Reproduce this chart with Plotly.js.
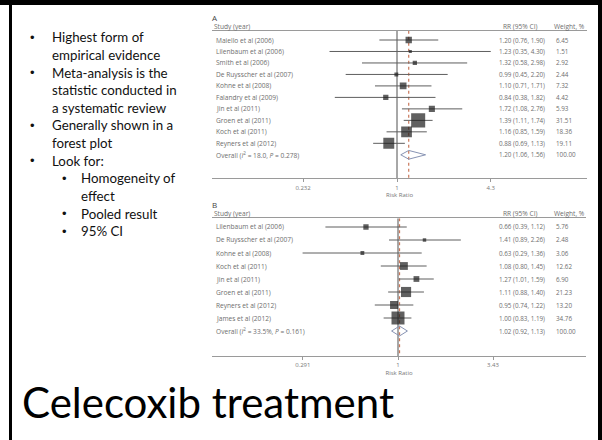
<!DOCTYPE html>
<html>
<head>
<meta charset="utf-8">
<script src="https://cdn.plot.ly/plotly-3.0.1.min.js"></script>
<style>html,body{margin:0;padding:0;background:#fff;}#chart{width:602px;height:440px;}</style>
</head>
<body>
<div id="chart"></div>
<script>
// ---------- data ----------
const studiesA = ["Maiello et al (2006)", "Lilenbaum et al (2006)", "Smith et al (2006)", "De Ruysscher et al (2007)", "Kohne et al (2008)", "Falandry et al (2009)", "Jin et al (2011)", "Groen et al (2011)", "Koch et al (2011)", "Reyners et al (2012)"];
const rrA = [1.20, 1.23, 1.32, 0.99, 1.10, 0.84, 1.72, 1.39, 1.16, 0.88];
const loA = [0.76, 0.35, 0.58, 0.45, 0.71, 0.38, 1.08, 1.11, 0.85, 0.69];
const hiA = [1.90, 4.30, 2.98, 2.20, 1.71, 1.82, 2.76, 1.74, 1.59, 1.13];
const wA = [6.45, 1.51, 2.92, 2.44, 7.32, 4.42, 5.93, 31.51, 18.36, 19.11];
const overallA = [1.20, 1.06, 1.56, 100.00];
const overallLabelA = "Overall (<i>I</i><sup>2</sup> = 18.0, <i>P</i> = 0.278)";
const ticksA = [0.232, 1, 4.3];
const tickTextA = ["0.232", "1", "4.3"];

const studiesB = ["Lilenbaum et al (2006)", "De Ruysscher et al (2007)", "Kohne et al (2008)", "Koch et al (2011)", "Jin et al (2011)", "Groen et al (2011)", "Reyners et al (2012)", "James et al (2012)"];
const rrB = [0.66, 1.41, 0.63, 1.08, 1.27, 1.11, 0.95, 1.00];
const loB = [0.39, 0.89, 0.29, 0.80, 1.01, 0.88, 0.74, 0.83];
const hiB = [1.12, 2.26, 1.36, 1.45, 1.59, 1.40, 1.22, 1.19];
const wB = [5.76, 2.48, 3.06, 12.62, 6.90, 21.23, 13.20, 34.76];
const overallB = [1.02, 0.92, 1.13, 100.00];
const overallLabelB = "Overall (<i>I</i><sup>2</sup> = 33.5%, <i>P</i> = 0.161)";
const ticksB = [0.291, 1, 3.43];
const tickTextB = ["0.291", "1", "3.43"];

// bullet level: 0 = new top bullet, -1 = continuation, 1 = new sub bullet, -2 = sub continuation
const bullets = [
  [0, "Highest form of"], [-1, "empirical evidence"],
  [0, "Meta-analysis is the"], [-1, "statistic conducted in"], [-1, "a systematic review"],
  [0, "Generally shown in a"], [-1, "forest plot"],
  [0, "Look for:"],
  [1, "Homogeneity of"], [-2, "effect"],
  [1, "Pooled result"],
  [1, "95% CI"]
];
const slideTitle = "Celecoxib treatment";

// ---------- layout helpers ----------
const W = 602, H = 440;
const px = v => v / W;
const py = v => 1 - v / H;

const traces = [];
const annotations = [];
const shapes = [];

function panel(cfg) {
  const n = cfg.names.length;
  const yTop = (cfg.headPx - cfg.row0) / cfg.step;
  const yBot = (cfg.axisPx - cfg.row0) / cfg.step;
  const xa = cfg.xa, ya = cfg.ya;
  traces.push({x: [1, 1], y: [yTop, yBot], xaxis: xa, yaxis: ya, mode: "lines",
    line: {color: "#505050", width: 1}, hoverinfo: "skip"});
  traces.push({x: [cfg.overall[0], cfg.overall[0]], y: [yTop, yBot], xaxis: xa, yaxis: ya, mode: "lines",
    line: {color: "#c9785a", width: 1.2, dash: "dot"}, hoverinfo: "skip"});
  const cx = [], cy = [];
  for (let i = 0; i < n; i++) { cx.push(cfg.lo[i], cfg.hi[i], null); cy.push(i, i, null); }
  traces.push({x: cx, y: cy, xaxis: xa, yaxis: ya, mode: "lines",
    line: {color: "#5e5e5e", width: 1}, hoverinfo: "skip"});
  traces.push({x: cfg.rr, y: cfg.names.map((_, i) => i), xaxis: xa, yaxis: ya, mode: "markers",
    marker: {symbol: "square", color: "#1c1c1c", size: cfg.w.map(w => Math.max(3, cfg.k * Math.sqrt(w))), line: {width: 0}},
    hoverinfo: "skip"});
  const o = cfg.overall;
  traces.push({x: [o[1], o[0], o[2], o[0], o[1]], y: [n, n - 0.38, n, n + 0.38, n], xaxis: xa, yaxis: ya,
    mode: "lines", line: {color: "#8793b3", width: 1}, hoverinfo: "skip"});

  const txt = {family: "Open Sans, DejaVu Sans, sans-serif", size: 6.6, color: "#6e6e6e"};
  const num = {family: "Open Sans, DejaVu Sans, sans-serif", size: 6.3, color: "#6e6e6e"};
  const yr = ya;
  const labels = cfg.names.concat([cfg.overallLabel]);
  const rrs = cfg.rr.concat([o[0]]), los = cfg.lo.concat([o[1]]), his = cfg.hi.concat([o[2]]), ws = cfg.w.concat([o[3]]);
  labels.forEach((lab, i) => {
    annotations.push({xref: "paper", yref: yr, x: px(214), y: i, text: lab, showarrow: false,
      xanchor: "left", yanchor: "middle", font: txt});
    annotations.push({xref: "paper", yref: yr, x: px(497), y: i,
      text: rrs[i].toFixed(2) + " (" + los[i].toFixed(2) + ", " + his[i].toFixed(2) + ")",
      showarrow: false, xanchor: "left", yanchor: "middle", font: num});
    annotations.push({xref: "paper", yref: yr, x: px(554), y: i, text: ws[i].toFixed(2), showarrow: false,
      xanchor: "left", yanchor: "middle", font: num});
  });
  annotations.push({xref: "paper", yref: "paper", x: px(210), y: py(cfg.letterPx), text: cfg.letter, showarrow: false,
    xanchor: "left", yanchor: "middle", font: {family: "Open Sans, sans-serif", size: 8, color: "#444"}});
  annotations.push({xref: "paper", yref: "paper", x: px(212), y: py(cfg.headPx - 4.5), text: "Study (year)", showarrow: false,
    xanchor: "left", yanchor: "middle", font: txt});
  annotations.push({xref: "paper", yref: "paper", x: px(501), y: py(cfg.headPx - 4.5), text: "RR (95% CI)", showarrow: false,
    xanchor: "left", yanchor: "middle", font: txt});
  annotations.push({xref: "paper", yref: "paper", x: px(552), y: py(cfg.headPx - 4.5), text: "Weight, %", showarrow: false,
    xanchor: "left", yanchor: "middle", font: txt});
  return [yBot, yTop];
}

const rangeYA = panel({names: studiesA, rr: rrA, lo: loA, hi: hiA, w: wA, overall: overallA, overallLabel: overallLabelA,
  xa: "x", ya: "y", row0: 40, step: 11.48, headPx: 30.7, axisPx: 178.3, k: 2.5, letter: "A", letterPx: 17.5});
const rangeYB = panel({names: studiesB, rr: rrB, lo: loB, hi: hiB, w: wB, overall: overallB, overallLabel: overallLabelB,
  xa: "x2", ya: "y2", row0: 227, step: 13.0, headPx: 218.3, axisPx: 356, k: 2.2, letter: "B", letterPx: 204.5});

// left bullets
const bfont = {family: "Lato, Carlito, sans-serif", size: 13.3, color: "#111"};
bullets.forEach((b, i) => {
  const lvl = b[0];
  const sub = (lvl === 1 || lvl === -2);
  const yy = 37.5 + 17.6 * i;
  if (lvl >= 0) {
    annotations.push({xref: "paper", yref: "paper", x: px(sub ? 64 : 32), y: py(yy), text: "•", showarrow: false,
      xanchor: "center", yanchor: "middle", font: {family: "Liberation Sans, Arial, sans-serif", size: 13, color: "#111"}});
  }
  annotations.push({xref: "paper", yref: "paper", x: px(sub ? 79 : 50), y: py(yy), text: b[1], showarrow: false,
    xanchor: "left", yanchor: "middle", font: bfont});
});
// slide title
annotations.push({xref: "paper", yref: "paper", x: px(20), y: py(402), text: slideTitle, showarrow: false,
  xanchor: "left", yanchor: "middle", font: {family: "Lato, sans-serif", size: 42, color: "#000", weight: 400}});

// slide frame
shapes.push({type: "rect", xref: "paper", yref: "paper", x0: 0, x1: 1, y0: py(5), y1: 1, fillcolor: "#000", line: {width: 0}});
shapes.push({type: "rect", xref: "paper", yref: "paper", x0: px(9), x1: px(12), y0: 0, y1: 1, fillcolor: "#000", line: {width: 0}});
shapes.push({type: "rect", xref: "paper", yref: "paper", x0: px(598), x1: 1, y0: 0, y1: 1, fillcolor: "#000", line: {width: 0}});

function xaxisCfg(domain, oneAt, pxPerDec, tv, tt, anchor) {
  return {type: "log", domain: [px(domain[0]), px(domain[1])],
    range: [(domain[0] - oneAt) / pxPerDec, (domain[1] - oneAt) / pxPerDec],
    anchor: anchor, showline: true, mirror: true, linecolor: "#9a9a9a", linewidth: 1,
    showgrid: false, zeroline: false, tickmode: "array", tickvals: tv, ticktext: tt,
    ticks: "outside", ticklen: 3, tickcolor: "#999", tickwidth: 1,
    tickfont: {family: "Open Sans, sans-serif", size: 6, color: "#777"},
    title: {text: "Risk Ratio", font: {family: "Open Sans, sans-serif", size: 6, color: "#777"}, standoff: 1},
    fixedrange: true};
}
const layout = {
  width: W, height: H, margin: {l: 0, r: 0, t: 0, b: 0},
  paper_bgcolor: "#fff", plot_bgcolor: "rgba(0,0,0,0)", showlegend: false,
  xaxis: xaxisCfg([212, 587], 397, 148, ticksA, tickTextA, "y"),
  yaxis: {domain: [py(178.3), py(30.7)], range: rangeYA, showticklabels: false, showgrid: false, zeroline: false, showline: false, ticks: ""},
  xaxis2: xaxisCfg([212, 586], 398, 177.5, ticksB, tickTextB, "y2"),
  yaxis2: {domain: [py(356), py(218.3)], range: rangeYB, showticklabels: false, showgrid: false, zeroline: false, showline: false, ticks: ""},
  annotations: annotations, shapes: shapes
};
Plotly.newPlot("chart", traces, layout, {staticPlot: true, displayModeBar: false});
</script>
</body>
</html>
